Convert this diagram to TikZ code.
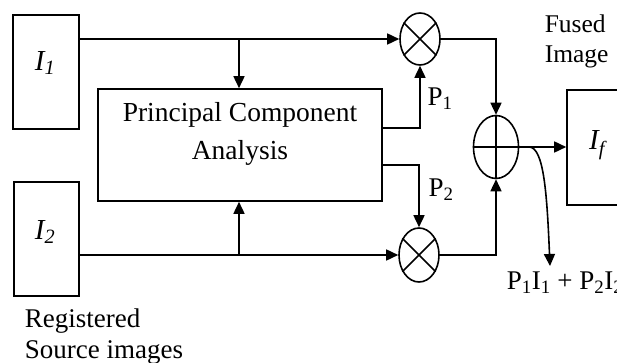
\documentclass[tikz,border=0pt]{standalone}
\usepackage{fontspec}
\setmainfont{Liberation Serif}
\usetikzlibrary{arrows.meta,shapes.geometric}
\begin{document}
\begin{tikzpicture}[x=1pt,y=-1pt,
  line width=1.6pt,
  arr/.style={-{Triangle[length=12pt,width=11pt]}},
  blk/.style={draw,rectangle,inner sep=0pt},
  opr/.style={draw,ellipse,inner sep=0pt},
  txt/.style={font=\fontsize{27}{31}\selectfont,inner sep=0pt},
  ]
\useasboundingbox (0,0) rectangle (617,363);
\clip (0,0) rectangle (617,363);
% blocks
\node[blk,minimum width=66pt,minimum height=114pt] (I1) at (46,72) {};
\node[blk,minimum width=65pt,minimum height=114pt] (I2) at (46.5,239) {};
\node[blk,minimum width=284pt,minimum height=112pt] (pca) at (240,145) {};
\node[blk,minimum width=100pt,minimum height=115pt] (If) at (617,147.5) {};
\node[opr,minimum width=40pt,minimum height=52pt] (m1) at (420,39) {};
\node[opr,minimum width=40pt,minimum height=54pt] (m2) at (419,255) {};
\node[opr,minimum width=45pt,minimum height=63pt] (add) at (496,147) {};
% operator symbols
\draw (m1.45) -- (m1.225) (m1.135) -- (m1.315);
\draw (m2.45) -- (m2.225) (m2.135) -- (m2.315);
\draw (add.north) -- (add.south) (add.west) -- (add.east);
% texts
\node[txt,font=\fontsize{29}{31}\selectfont] (tI1) at (45,63) {\textit{I\textsubscript{1}}};
\node[txt,font=\fontsize{29}{31}\selectfont] (tI2) at (45,232) {\textit{I\textsubscript{2}}};
\node[txt,font=\fontsize{29}{31}\selectfont] (tIf) at (597,145) {\textit{I\textsubscript{f}}};
\node[txt,font=\fontsize{27.5}{38}\selectfont,align=center] (tpca) at (240,134) {Principal Component\\Analysis};
\node[txt,font=\fontsize{25.5}{30}\selectfont,align=left,anchor=west] (tfused) at (544,41) {Fused\\Image};
\node[txt,align=left,anchor=west] (treg) at (24,337) {Registered\\Source images};
\node[txt] (tP1) at (440,99) {P\textsubscript{1}};
\node[txt] (tP2) at (441,190) {P\textsubscript{2}};
\node[txt,anchor=west] (tsum) at (506,283) {P\textsubscript{1}I\textsubscript{1} + P\textsubscript{2}I\textsubscript{2}};
% connectors
\coordinate (j1) at (239,40);
\coordinate (j2) at (239,255);
\draw[arr] (I1.east |- m1.west) -- (m1.west);
\draw[arr] (j1) -- (j1 |- pca.north);
\draw[arr] (I2.east |- m2.west) -- (m2.west);
\draw[arr] (j2) -- (j2 |- pca.south);
\draw[arr] ([yshift=17pt]pca.east) -| (m1.south);
\draw[arr] ([yshift=-20pt]pca.east) -| (m2.north);
\draw[arr] (m1.east) -| (add.north);
\draw[arr] (m2.east) -| (add.south);
\draw[arr] (add.east) -- (add.east -| If.west);
\coordinate (c0) at (529,147);
\coordinate (c1) at (550,266);
\draw[arr] (c0) .. controls (544,147) and (547,195) .. (c1);
\end{tikzpicture}
\end{document}
